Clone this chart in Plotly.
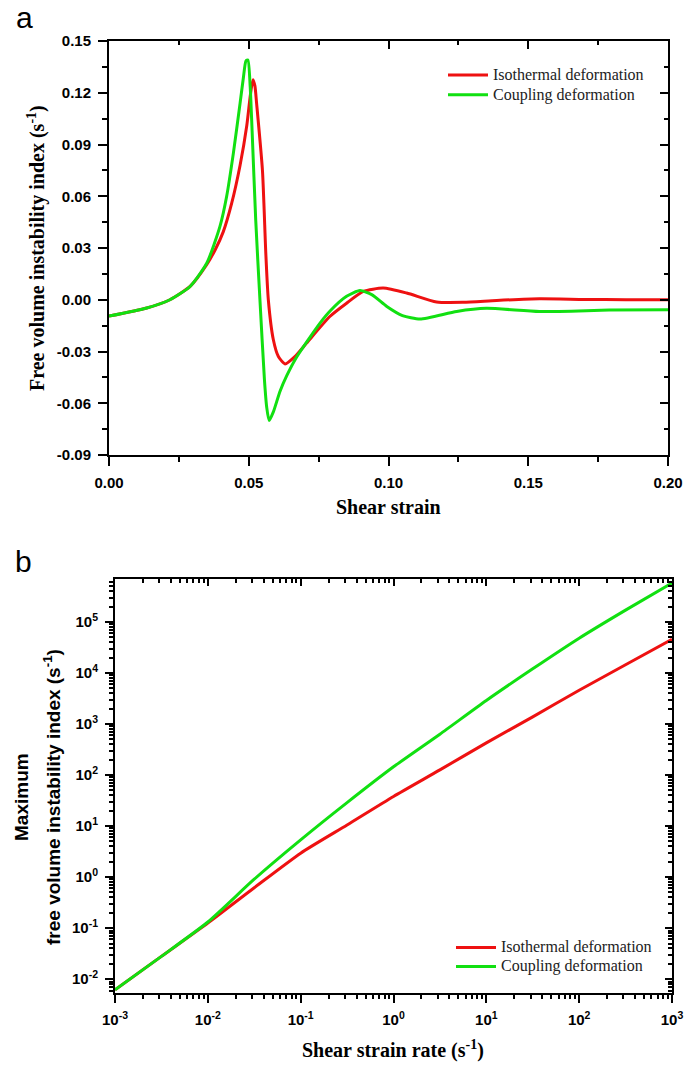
import plotly.graph_objects as go

# ---------------- data: panel a ----------------
iso_strain = [0.000, 0.0135, 0.0218, 0.029, 0.035, 0.038, 0.0409, 0.0439, 0.0469, 0.0493, 0.0506,
              0.0515, 0.0522, 0.0528, 0.0549, 0.0561, 0.0570, 0.0588, 0.0606, 0.0630, 0.0665, 0.0707,
              0.0790, 0.0850, 0.0910, 0.0981, 0.1065, 0.1172, 0.1268, 0.1387, 0.1540, 0.1700, 0.1850, 0.2000]
iso_index = [-0.0095, -0.0048, 0.0000, 0.0077, 0.0205, 0.0290, 0.0395, 0.0560, 0.0780, 0.1010, 0.1190,
             0.1275, 0.1240, 0.1140, 0.0750, 0.0270, 0.0000, -0.0232, -0.0329, -0.0372, -0.0330, -0.0251,
             -0.0097, -0.0020, 0.0048, 0.0068, 0.0039, -0.0013, -0.0015, -0.0004, 0.0006, 0.0002, 0.0000, 0.0000]

cpl_strain = [0.000, 0.0135, 0.0218, 0.029, 0.035, 0.0397, 0.0421, 0.0445, 0.0469, 0.0481, 0.0490, 0.0497,
              0.0505, 0.0512, 0.0525, 0.0540, 0.0556, 0.0564, 0.0573, 0.0588, 0.0612, 0.0636, 0.0672,
              0.0755, 0.0791, 0.0850, 0.0898, 0.0940, 0.0994, 0.1050, 0.1113, 0.1244, 0.1350, 0.1540,
              0.1790, 0.2000]
cpl_index = [-0.0095, -0.0048, 0.0000, 0.0077, 0.0213, 0.0425, 0.0600, 0.0850, 0.1140, 0.1290, 0.1385, 0.1390,
             0.1240, 0.0980, 0.0460, 0.0000, -0.0460, -0.0620, -0.0700, -0.0650, -0.0530, -0.0440, -0.0330,
             -0.0135, -0.0065, 0.0020, 0.0053, 0.0030, -0.0039, -0.0092, -0.0112, -0.0068, -0.0050, -0.0068,
             -0.0060, -0.0058]

strain_ticks = [0.00, 0.05, 0.10, 0.15, 0.20]
strain_labels = ["0.00", "0.05", "0.10", "0.15", "0.20"]
index_ticks = [-0.09, -0.06, -0.03, 0.00, 0.03, 0.06, 0.09, 0.12, 0.15]
index_labels = ["-0.09", "-0.06", "-0.03", "0.00", "0.03", "0.06", "0.09", "0.12", "0.15"]

# ---------------- data: panel b ----------------
rate = [0.001, 0.00316, 0.01, 0.0316, 0.1, 0.316, 1, 3.16, 10, 31.6, 100, 316, 1000]
iso_max = [0.0062, 0.028, 0.126, 0.62, 2.95, 10.5, 38, 126, 427, 1380, 4570, 14450, 45700]
cpl_max = [0.0062, 0.028, 0.132, 0.91, 5.37, 28.8, 145, 631, 2884, 12023, 47863, 169824, 575440]

rate_ticks = [1e-3, 1e-2, 1e-1, 1, 10, 100, 1000]
rate_labels = ["10<sup>-3</sup>", "10<sup>-2</sup>", "10<sup>-1</sup>", "10<sup>0</sup>",
               "10<sup>1</sup>", "10<sup>2</sup>", "10<sup>3</sup>"]
max_ticks = [1e-2, 1e-1, 1, 10, 100, 1e3, 1e4, 1e5]
max_labels = ["10<sup>-2</sup>", "10<sup>-1</sup>", "10<sup>0</sup>", "10<sup>1</sup>",
              "10<sup>2</sup>", "10<sup>3</sup>", "10<sup>4</sup>", "10<sup>5</sup>"]

series_names = ["Isothermal deformation", "Coupling deformation"]
RED = "#ee1111"
GREEN = "#11e011"

W, H = 686, 1066
def fx(p):
    return p / W
def fy(p):
    return 1 - p / H

SANS = "Liberation Sans"
SERIF = "Liberation Serif"
tickfont = dict(family=SANS, size=15, color="black", weight="bold")

def big(name):
    return '<span style="font-size:16px">' + name + '</span>'

fig = go.Figure()
fig.add_trace(go.Scatter(x=iso_strain, y=iso_index, mode="lines", name=big(series_names[0]),
                         line=dict(color=RED, width=3, shape="spline", smoothing=0.6),
                         xaxis="x", yaxis="y", legend="legend"))
fig.add_trace(go.Scatter(x=cpl_strain, y=cpl_index, mode="lines", name=big(series_names[1]),
                         line=dict(color=GREEN, width=3, shape="spline", smoothing=0.6),
                         xaxis="x", yaxis="y", legend="legend"))
fig.add_trace(go.Scatter(x=rate, y=iso_max, mode="lines", name=big(series_names[0]),
                         line=dict(color=RED, width=3, shape="spline", smoothing=0.6),
                         xaxis="x2", yaxis="y2", legend="legend2"))
fig.add_trace(go.Scatter(x=rate, y=cpl_max, mode="lines", name=big(series_names[1]),
                         line=dict(color=GREEN, width=3, shape="spline", smoothing=0.6),
                         xaxis="x2", yaxis="y2", legend="legend2"))
# empty traces so the mirrored (inside-tick) axes are drawn
fig.add_trace(go.Scatter(x=[None], y=[None], xaxis="x3", yaxis="y3", showlegend=False, hoverinfo="skip"))
fig.add_trace(go.Scatter(x=[None], y=[None], xaxis="x4", yaxis="y4", showlegend=False, hoverinfo="skip"))

common = dict(showline=True, linecolor="black", linewidth=2, showgrid=False, zeroline=False,
              tickcolor="black", tickwidth=2, tickfont=tickfont, automargin=False)

xa_dom = [fx(109), fx(668)]
ya_dom = [fy(455), fy(41)]
xb_dom = [fx(115), fx(672)]
yb_dom = [fy(993), fy(579)]

fig.update_layout(
    width=W, height=H, margin=dict(l=0, r=0, t=0, b=0, autoexpand=False),
    paper_bgcolor="white", plot_bgcolor="white",
    showlegend=True,
    xaxis=dict(domain=xa_dom, anchor="y", range=[0, 0.2], tickmode="array", tickvals=strain_ticks,
               ticktext=strain_labels, ticks="outside", ticklen=9, ticklabelstandoff=4,
               minor=dict(ticks="outside", ticklen=5, tickwidth=2, tickcolor="black", tick0=0, dtick=0.025,
                          showgrid=False), **common),
    yaxis=dict(domain=ya_dom, anchor="x", range=[-0.09, 0.15], tickmode="array", tickvals=index_ticks,
               ticktext=index_labels, ticks="outside", ticklen=9, ticklabelstandoff=4,
               minor=dict(ticks="outside", ticklen=5, tickwidth=2, tickcolor="black", tick0=0, dtick=0.015,
                          showgrid=False), **common),
    xaxis3=dict(overlaying="x", anchor="y", side="top", range=[0, 0.2], tickmode="array", tickvals=strain_ticks,
                ticks="inside", ticklen=8, showticklabels=False,
                minor=dict(ticks="inside", ticklen=4, tickwidth=2, tickcolor="black", tick0=0, dtick=0.025,
                           showgrid=False), **common),
    yaxis3=dict(overlaying="y", anchor="x", side="right", range=[-0.09, 0.15], tickmode="array",
                tickvals=index_ticks, ticks="inside", ticklen=8, showticklabels=False,
                minor=dict(ticks="inside", ticklen=4, tickwidth=2, tickcolor="black", tick0=0, dtick=0.015,
                           showgrid=False), **common),
    xaxis2=dict(domain=xb_dom, anchor="y2", type="log", range=[-3, 3], tickmode="array", tickvals=rate_ticks,
                ticktext=rate_labels, ticks="outside", ticklen=8, ticklabelstandoff=4,
                minor=dict(ticks="outside", ticklen=4, tickwidth=1.5, tickcolor="black", dtick="D1",
                           showgrid=False), **common),
    yaxis2=dict(domain=yb_dom, anchor="x2", type="log", range=[-2.27, 5.84], tickmode="array",
                tickvals=max_ticks, ticktext=max_labels, ticks="outside", ticklen=8, ticklabelstandoff=4,
                minor=dict(ticks="outside", ticklen=4, tickwidth=1.5, tickcolor="black", dtick="D1",
                           showgrid=False), **common),
    xaxis4=dict(overlaying="x2", anchor="y2", side="top", type="log", range=[-3, 3], tickmode="array",
                tickvals=rate_ticks, ticks="inside", ticklen=7, showticklabels=False,
                minor=dict(ticks="inside", ticklen=4, tickwidth=1.5, tickcolor="black", dtick="D1",
                           showgrid=False), **common),
    yaxis4=dict(overlaying="y2", anchor="x2", side="right", type="log", range=[-2.27, 5.84], tickmode="array",
                tickvals=max_ticks, ticks="inside", ticklen=7, showticklabels=False,
                minor=dict(ticks="inside", ticklen=4, tickwidth=1.5, tickcolor="black", dtick="D1",
                           showgrid=False), **common),
    legend=dict(x=fx(443), y=fy(60), xanchor="left", yanchor="top", bgcolor="rgba(0,0,0,0)",
                font=dict(family=SERIF, size=13, color="#222"), tracegroupgap=0, itemwidth=40),
    legend2=dict(x=fx(451), y=fy(933), xanchor="left", yanchor="top", bgcolor="rgba(0,0,0,0)",
                 font=dict(family=SERIF, size=12, color="#222"), tracegroupgap=0, itemwidth=40),
)

ann = [
    dict(text="a", x=fx(24), y=fy(17), font=dict(family=SANS, size=30, color="black")),
    dict(text="b", x=fx(23), y=fy(561), font=dict(family=SANS, size=30, color="black")),
    dict(text="<b>Free volume instability index (s<sup>-1</sup>)</b>", x=fx(36), y=fy(248), textangle=-90,
         font=dict(family=SERIF, size=20, color="black")),
    dict(text="<b>Shear strain</b>", x=fx(388), y=fy(507), font=dict(family=SERIF, size=20, color="black")),
    dict(text="<b>Maximum</b>", x=fx(21), y=fy(797), textangle=-90,
         font=dict(family=SANS, size=19, color="black")),
    dict(text="<b>free volume instability index (s<sup>-1</sup>)</b>", x=fx(52), y=fy(797), textangle=-90,
         font=dict(family=SANS, size=19, color="black")),
    dict(text="<b>Shear strain rate (s<sup>-1</sup>)</b>", x=fx(393), y=fy(1049),
         font=dict(family=SERIF, size=20, color="black")),
]
for a in ann:
    a.update(xref="paper", yref="paper", xanchor="center", yanchor="middle", showarrow=False)
fig.update_layout(annotations=ann)

fig.write_html("out.html")
